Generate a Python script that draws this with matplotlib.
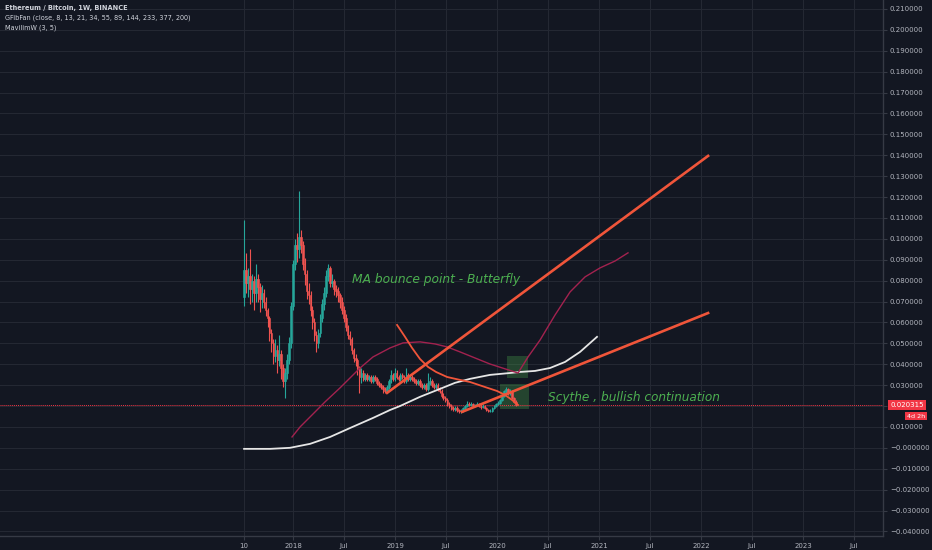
import numpy as np
import matplotlib.pyplot as plt
from matplotlib.patches import Rectangle

# weekly ETH/BTC candles, first bar = week of 10 Jul 2017
start_year = 2017.52
first_open = 0.072
closes = [0.085, 0.079, 0.082, 0.076, 0.080, 0.074, 0.081, 0.077, 0.071, 0.074,
          0.070, 0.066, 0.062, 0.055, 0.050, 0.044, 0.047, 0.042, 0.045, 0.038,
          0.032, 0.036, 0.042, 0.050, 0.068, 0.088, 0.097, 0.095, 0.101, 0.097,
          0.088, 0.083, 0.075, 0.073, 0.066, 0.060, 0.054, 0.050, 0.055, 0.062,
          0.069, 0.074, 0.082, 0.086, 0.079, 0.080, 0.076, 0.075, 0.073, 0.070,
          0.066, 0.062, 0.058, 0.054, 0.052, 0.047, 0.043, 0.042, 0.038, 0.034,
          0.036, 0.033, 0.035, 0.033, 0.034, 0.032, 0.034, 0.033, 0.031, 0.030,
          0.029, 0.028, 0.027, 0.029, 0.032, 0.035, 0.033, 0.036, 0.034, 0.033,
          0.035, 0.034, 0.032, 0.035, 0.033, 0.034, 0.033, 0.032, 0.031, 0.032,
          0.030, 0.029, 0.030, 0.028, 0.031, 0.032, 0.030, 0.029, 0.030, 0.028,
          0.027, 0.025, 0.024, 0.023, 0.021, 0.020, 0.019, 0.0185, 0.019, 0.018,
          0.0175, 0.0178, 0.019, 0.020, 0.021, 0.0205, 0.021, 0.020, 0.0205, 0.021,
          0.020, 0.0195, 0.020, 0.019, 0.018, 0.0175, 0.0178, 0.019, 0.020, 0.021,
          0.0215, 0.023, 0.025, 0.027, 0.028, 0.026, 0.027, 0.024, 0.022, 0.0203]
highs = [0.109, 0.093, 0.086, 0.095, 0.083, 0.082, 0.088, 0.083, 0.079, 0.078,
         0.076, 0.072, 0.067, 0.063, 0.057, 0.052, 0.052, 0.049, 0.054, 0.047,
         0.040, 0.038, 0.045, 0.053, 0.070, 0.090, 0.100, 0.103, 0.123, 0.104,
         0.099, 0.091, 0.085, 0.079, 0.075, 0.068, 0.062, 0.056, 0.057, 0.064,
         0.071, 0.077, 0.085, 0.088, 0.087, 0.083, 0.081, 0.078, 0.077, 0.074,
         0.072, 0.068, 0.064, 0.059, 0.056, 0.053, 0.048, 0.045, 0.043, 0.039,
         0.038, 0.037, 0.036, 0.036, 0.035, 0.035, 0.035, 0.035, 0.034, 0.032,
         0.031, 0.030, 0.029, 0.030, 0.033, 0.037, 0.036, 0.038, 0.037, 0.035,
         0.036, 0.036, 0.035, 0.038, 0.036, 0.035, 0.035, 0.034, 0.033, 0.033,
         0.033, 0.031, 0.031, 0.031, 0.036, 0.034, 0.033, 0.031, 0.031, 0.031,
         0.029, 0.028, 0.026, 0.025, 0.024, 0.022, 0.021, 0.020, 0.020, 0.020,
         0.0188, 0.0185, 0.0195, 0.0205, 0.0222, 0.0218, 0.0218, 0.0215, 0.0212, 0.0218,
         0.0215, 0.0208, 0.0208, 0.0205, 0.0195, 0.0185, 0.0185, 0.0195, 0.0205, 0.0215,
         0.0222, 0.0235, 0.0255, 0.0278, 0.0290, 0.0285, 0.0280, 0.0275, 0.0245, 0.0228]
lows = [0.068, 0.074, 0.072, 0.069, 0.070, 0.066, 0.070, 0.070, 0.065, 0.067,
        0.067, 0.063, 0.058, 0.051, 0.046, 0.040, 0.041, 0.036, 0.039, 0.033,
        0.029, 0.024, 0.033, 0.040, 0.048, 0.066, 0.085, 0.089, 0.091, 0.093,
        0.085, 0.078, 0.071, 0.069, 0.063, 0.057, 0.051, 0.046, 0.048, 0.053,
        0.060, 0.066, 0.072, 0.080, 0.077, 0.077, 0.073, 0.072, 0.070, 0.067,
        0.064, 0.060, 0.056, 0.052, 0.049, 0.045, 0.041, 0.039, 0.035, 0.026,
        0.031, 0.032, 0.032, 0.032, 0.032, 0.031, 0.031, 0.032, 0.030, 0.029,
        0.028, 0.026, 0.026, 0.026, 0.028, 0.031, 0.032, 0.032, 0.033, 0.032,
        0.032, 0.033, 0.031, 0.031, 0.032, 0.032, 0.032, 0.031, 0.030, 0.030,
        0.029, 0.028, 0.028, 0.027, 0.027, 0.030, 0.029, 0.028, 0.028, 0.027,
        0.026, 0.024, 0.023, 0.022, 0.020, 0.019, 0.018, 0.0178, 0.0178, 0.0172,
        0.0168, 0.0165, 0.0172, 0.0185, 0.0195, 0.0198, 0.0198, 0.0195, 0.0195, 0.0200,
        0.0195, 0.0188, 0.0190, 0.0185, 0.0175, 0.0170, 0.0170, 0.0172, 0.0185, 0.0195,
        0.0205, 0.0210, 0.0225, 0.0245, 0.0262, 0.0252, 0.0255, 0.0235, 0.0215, 0.0198]

# long moving average (white) with its projection
ma_x = [2017.52, 2017.775, 2017.97, 2018.167, 2018.363, 2018.56, 2018.784, 2018.951,
        2019.049, 2019.245, 2019.441, 2019.588, 2019.735, 2019.931, 2020.127, 2020.225,
        2020.373, 2020.52, 2020.667, 2020.814, 2020.98]
ma_y = [-0.0005, -0.0005, 0.0000, 0.0019, 0.0052, 0.0095, 0.0143, 0.0181,
        0.0200, 0.0244, 0.0282, 0.0311, 0.0330, 0.0349, 0.0358, 0.0363,
        0.0368, 0.0382, 0.0411, 0.0459, 0.0531]

# maroon curve
mav_x = [2017.99, 2018.069, 2018.196, 2018.314, 2018.461, 2018.657, 2018.784, 2018.951,
         2019.078, 2019.245, 2019.392, 2019.51, 2019.637, 2019.784, 2019.931, 2020.078,
         2020.206, 2020.304, 2020.422, 2020.569, 2020.716, 2020.863, 2021.01, 2021.157, 2021.284]
mav_y = [0.0052, 0.0100, 0.0162, 0.0220, 0.0287, 0.0382, 0.0435, 0.0478,
         0.0502, 0.0507, 0.0497, 0.0483, 0.0459, 0.0430, 0.0401, 0.0378,
         0.0358, 0.0435, 0.0516, 0.0636, 0.0746, 0.0818, 0.0861, 0.0894, 0.0933]

# drawn red arc
arc_x = [2019.02, 2019.098, 2019.167, 2019.245, 2019.324, 2019.402, 2019.51, 2019.637,
         2019.735, 2019.882, 2020.0, 2020.078, 2020.147, 2020.206]
arc_y = [0.0588, 0.0531, 0.0478, 0.0425, 0.0387, 0.0363, 0.0339, 0.0325,
         0.0315, 0.0291, 0.0272, 0.0253, 0.0229, 0.0205]

# trend lines (x0, y0, x1, y1)
trend_upper = [2018.922, 0.0263, 2022.069, 0.1397]
trend_lower = [2019.657, 0.0172, 2022.069, 0.0645]

# highlight boxes (x0, x1, y0, y1)
boxes = [[2020.098, 2020.304, 0.0334, 0.0440],
         [2020.029, 2020.314, 0.0186, 0.0306]]

last_price = 0.020315

y_ticks = [0.21, 0.20, 0.19, 0.18, 0.17, 0.16, 0.15, 0.14, 0.13, 0.12, 0.11, 0.10,
           0.09, 0.08, 0.07, 0.06, 0.05, 0.04, 0.03, 0.02, 0.01, 0.0, -0.01, -0.02,
           -0.03, -0.04]
x_ticks = [2017.52, 2018.0, 2018.5, 2019.0, 2019.5, 2020.0, 2020.5, 2021.0, 2021.5,
           2022.0, 2022.5, 2023.0, 2023.5]
x_labels = ['10', '2018', 'Jul', '2019', 'Jul', '2020', 'Jul', '2021', 'Jul',
            '2022', 'Jul', '2023', 'Jul']

bg = '#131722'
grid = '#242833'
txt = '#b2b5be'
up_col = '#26a69a'
down_col = '#ef5350'

fig = plt.figure(figsize=(9.32, 5.5), dpi=100, facecolor=bg)
ax = fig.add_axes([0, 14 / 550, 883 / 932, 536 / 550])
ax.set_facecolor(bg)

n = len(closes)
xs = start_year + np.arange(n) / 52.18
opens = np.array([first_open] + closes[:-1])
cl = np.array(closes)
cols = [up_col if c >= o else down_col for o, c in zip(opens, cl)]
ax.vlines(xs, lows, highs, colors=cols, lw=0.8, zorder=3)
ax.bar(xs, cl - opens, bottom=opens, width=0.8 / 52.18, color=cols,
       edgecolor=cols, lw=0.4, zorder=3)

ax.plot(ma_x, ma_y, color='#e6e6e6', lw=1.3, zorder=4)
ax.plot(mav_x, mav_y, color='#a3224f', lw=1.0, zorder=4)
ax.plot(arc_x, arc_y, color='#f0553a', lw=1.3, zorder=5)
for t in (trend_upper, trend_lower):
    ax.plot([t[0], t[2]], [t[1], t[3]], color='#f0553a', lw=1.9, zorder=5)

for b in boxes:
    ax.add_patch(Rectangle((b[0], b[2]), b[1] - b[0], b[3] - b[2],
                           facecolor='#4caf50', alpha=0.3, lw=0, zorder=2))

ax.axhline(last_price, color='#f23645', lw=0.7, ls=(0, (1, 1)), zorder=2)

ax.text(2018.58, 0.0805, 'MA bounce point - Butterfly', color='#4caf50',
        fontsize=8.8, style='italic', va='center', ha='left')
ax.text(2020.5, 0.0241, 'Scythe , bullish continuation', color='#4caf50',
        fontsize=8.7, style='italic', va='center', ha='left')

ax.set_xlim(2015.127, 2023.784)
ax.set_ylim(-0.0422, 0.2143)
ax.set_xticks(x_ticks)
ax.set_xticklabels(x_labels)
ax.set_yticks(y_ticks)
ax.set_yticklabels(['\u22120.000000' if v == 0 else ('%.6f' % v).replace('-', '\u2212')
                    for v in y_ticks])
ax.yaxis.tick_right()
ax.tick_params(axis='both', colors='#363a45', labelcolor=txt, labelsize=5, length=3, width=0.8)
ax.tick_params(axis='x', pad=2)
ax.tick_params(axis='y', pad=2)
ax.grid(True, color=grid, lw=0.8)
ax.set_axisbelow(True)
for s in ('top', 'left'):
    ax.spines[s].set_visible(False)
for s in ('right', 'bottom'):
    ax.spines[s].set_color('#363a45')
    ax.spines[s].set_linewidth(1)

# legend lines top-left
fig.text(5 / 932, 1 - 8 / 550, 'Ethereum / Bitcoin, 1W, BINANCE', color='#d1d4dc',
         fontsize=4.8, fontweight='bold', va='center')
fig.text(5 / 932, 1 - 18 / 550, 'GFibFan (close, 8, 13, 21, 34, 55, 89, 144, 233, 377, 200)',
         color='#d1d4dc', fontsize=4.7, va='center')
fig.text(5 / 932, 1 - 28 / 550, 'MavilimW (3, 5)', color='#d1d4dc', fontsize=4.7, va='center')

# last price tag
fig.text(907 / 932, 1 - 405 / 550, '%.6f' % last_price, color='white', fontsize=5,
         ha='center', va='center',
         bbox=dict(boxstyle='square,pad=0.3', facecolor='#f23645', edgecolor='none'))
fig.text(916 / 932, 1 - 416 / 550, '4d 2h', color='white', fontsize=4.6,
         ha='center', va='center',
         bbox=dict(boxstyle='square,pad=0.25', facecolor='#f23645', edgecolor='none'))

fig.savefig('out.png', dpi=100, facecolor=bg)
